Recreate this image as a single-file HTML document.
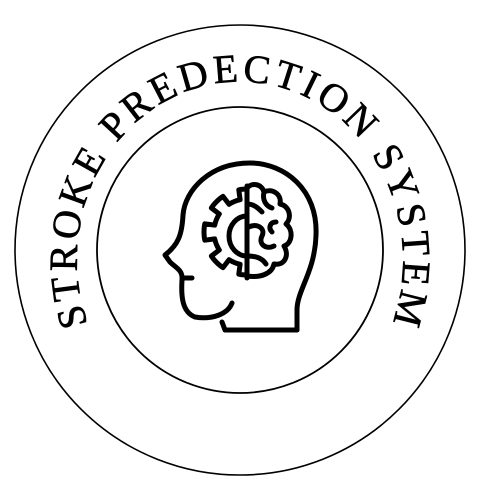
<!DOCTYPE html>
<html><head><meta charset="utf-8"><style>
html,body{margin:0;padding:0;background:#fff;width:500px;height:500px;overflow:hidden}
svg{display:block}
</style></head><body>
<svg width="500" height="500" viewBox="0 0 500 500">
<rect width="500" height="500" fill="#fff"/>
<circle cx="240" cy="250" r="225" fill="none" stroke="#000" stroke-width="1.6"/>
<circle cx="240" cy="250" r="143" fill="none" stroke="#000" stroke-width="1.8"/>
<defs><path id="arc" d="M 88 324 A 163 178 0 1 1 392 324"/></defs>
<text id="title" font-family="Liberation Serif, serif" font-size="40" fill="#000" stroke="#000" stroke-width="0.6"><textPath id="tp" href="#arc" startOffset="0">STROKE PREDECTION SYSTEM</textPath></text>
<g fill="none" stroke="#000" stroke-width="5" stroke-linecap="round" stroke-linejoin="round">
<path d="M297 330 L297 310 C297 290 315 272 316 235 C318 190 285 163 250 163 C210 163 185 190 183 215 C182 235 178 245 165 255 L170 262 C176 268 183 270 182 280 C181 296 182 312 195 317 C212 320 228 314 232 303"/>
<path d="M222 322 L225 330 L297 330"/>
<path d="M183 278 L192 278"/>
<path d="M247 186 L247 278"/>
<path id="gear" d=""/>
<path d="M247 216 A 18 20 0 0 0 247 256"/>
<path d="M247 188 C252 182 262 184 264 192 C272 188 282 194 280 204 C290 206 292 218 286 224 C294 230 292 244 284 246 C290 256 284 266 274 264 C272 274 260 278 247 276"/>
<path d="M247 204 C254 204 258 208 262 212"/>
<path d="M264 192 C262 200 266 206 272 208"/>
<path d="M247 228 C256 222 266 228 262 236 C258 244 266 250 274 246"/>
<path d="M276 222 C270 222 268 228 272 232"/>
<path d="M247 256 C256 256 262 258 266 264"/>
</g>
</svg>
<script>
var cx=247, cy=232, ro=43, ri=33, d='';
var teeth=[90,135,180,225,270];
var half=11;
d='M'+cx+' '+(cy-ro);
for (var a=90;a<=270;a+=1){
  var inTooth=teeth.some(function(t){return Math.abs(a-t)<=half;});
  var r=inTooth?ro:ri;
  var rad=a*Math.PI/180;
  d+=' L'+(cx+r*Math.cos(rad)).toFixed(1)+' '+(cy-r*Math.sin(rad)).toFixed(1);
}
document.getElementById('gear').setAttribute('d',d);
var t=document.getElementById('title');
var arc=document.getElementById('arc');
var target=arc.getTotalLength()-2;
var str='STROKE PREDECTION SYSTEM';
var len=t.getComputedTextLength();
var sp=(target-len)/(str.length-1);
if(!(sp>0&&sp<60)) sp=12;
t.setAttribute('letter-spacing', sp.toFixed(2));
</script>
</body></html>
